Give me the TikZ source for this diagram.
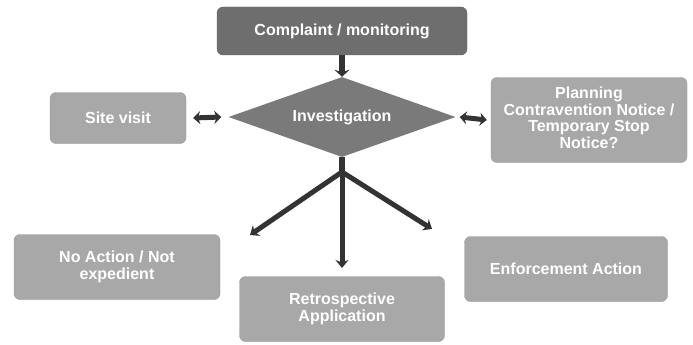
\documentclass[tikz,border=0pt]{standalone}
\usepackage{fontspec}
\setmainfont{Liberation Sans}
\usetikzlibrary{shapes.geometric,arrows.meta}
\definecolor{darkbox}{HTML}{6E6E6E}
\definecolor{diamondc}{HTML}{7A7A7A}
\definecolor{lightbox}{HTML}{A8A8A8}
\definecolor{arrowc}{HTML}{333333}
\begin{document}
\begin{tikzpicture}[x=1pt,y=-1pt,
  boxstyle/.style={rectangle,rounded corners=6pt,fill=lightbox,draw=lightbox!90!black,
    text=white,font=\bfseries\fontsize{16}{16.5}\selectfont,align=center,inner sep=0pt},
  flowarrow/.style={draw=arrowc,line width=5pt,-{Stealth[length=8pt,width=13pt]}},
  dblarrow/.style={draw=arrowc,line width=5pt,{Stealth[length=7pt,width=13pt]}-{Stealth[length=7pt,width=13pt]}}]
\useasboundingbox (0,0) rectangle (693,345);
\node[boxstyle,fill=darkbox,draw=darkbox!90!black,minimum width=250pt,minimum height=48pt] (complaint) at (342,31) {Complaint / monitoring};
\node[diamond,aspect=2.84,fill=diamondc,text=white,font=\bfseries\fontsize{16}{17}\selectfont,
  minimum width=227pt,minimum height=80pt,inner sep=0pt] (inv) at (342,117) {Investigation};
\node[boxstyle,minimum width=136pt,minimum height=51pt] (site) at (118,118) {Site visit};
\node[boxstyle,minimum width=196pt,minimum height=85pt] (pcn) at (589,120) {\raisebox{6pt}{\begin{tabular}{@{}c@{}}Planning\\Contravention Notice /\\Temporary Stop\\Notice?\end{tabular}}};
\node[boxstyle,minimum width=206pt,minimum height=65pt] (noact) at (117,267) {No Action / Not\\expedient};
\node[boxstyle,minimum width=205pt,minimum height=65pt] (retro) at (342,309) {Retrospective\\Application};
\node[boxstyle,minimum width=203pt,minimum height=65pt] (enf) at (566,269) {Enforcement Action};
\coordinate (hub) at (342,172);
\coordinate (la) at (250,235);
\coordinate (ra) at (432,229);
\coordinate (da) at (342,268);
\draw[draw=arrowc,line width=6pt,-{Stealth[length=7pt,width=15pt]}] (complaint.south) -- (inv.north);
\draw[dblarrow] ([xshift=-7pt]inv.west) -- ([xshift=7pt]site.east);
\draw[dblarrow] ([xshift=4pt]inv.east) -- ([xshift=-4pt]pcn.west);
\draw[draw=arrowc,line width=6pt] (inv.south) -- (hub);
\draw[flowarrow] (hub) -- (la);
\draw[flowarrow] (hub) -- (ra);
\draw[flowarrow] (hub) -- (da);
\end{tikzpicture}
\end{document}
